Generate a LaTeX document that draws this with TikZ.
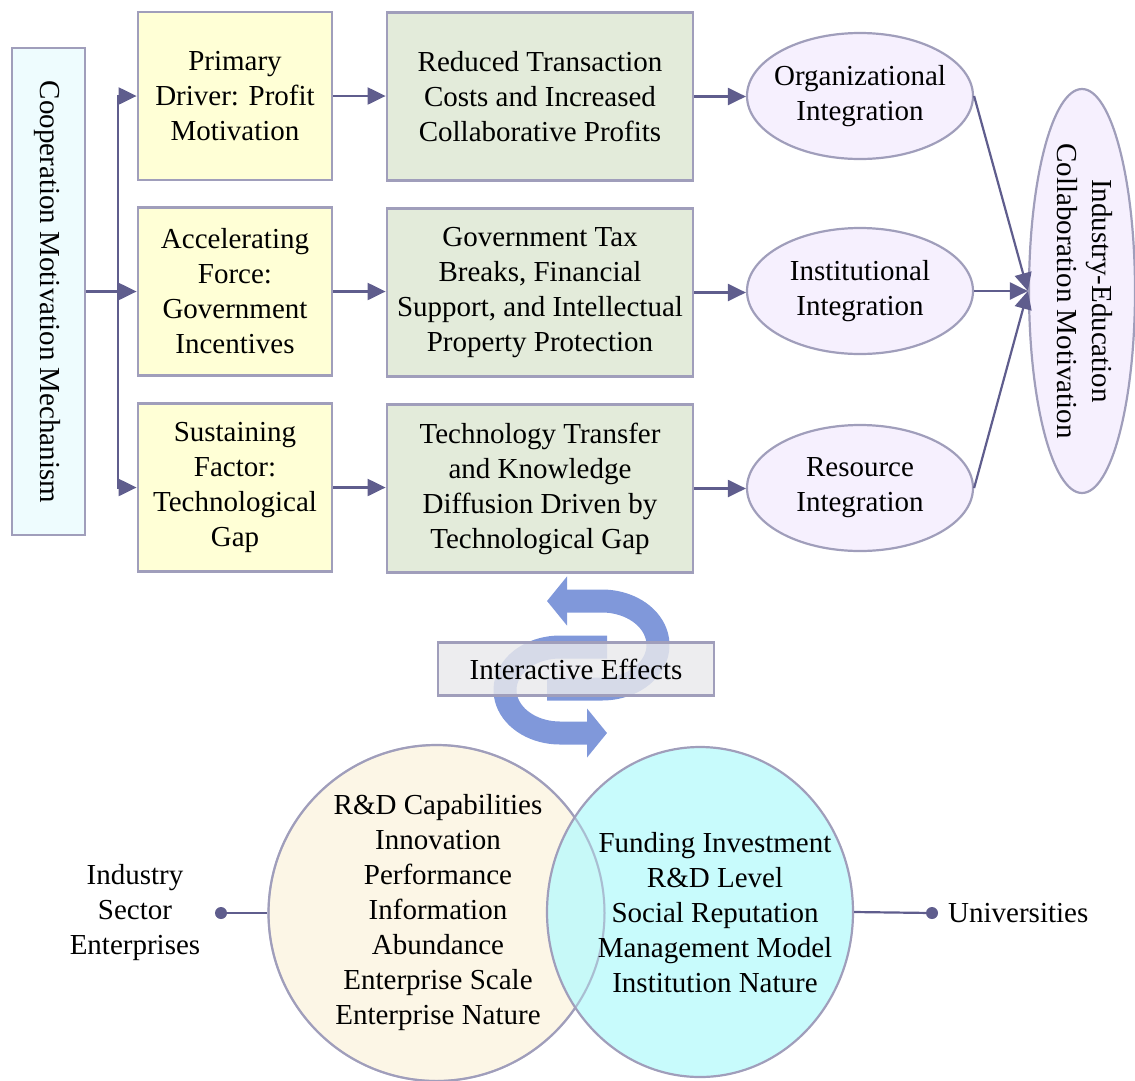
\documentclass[tikz,border=0pt]{standalone}
\usepackage{fontspec}
\setmainfont{Liberation Serif}
\usetikzlibrary{arrows.meta,shapes.geometric}
\definecolor{arr}{HTML}{5F5D8D}
\definecolor{bord}{HTML}{A09EBB}
\definecolor{leftfill}{HTML}{EEFCFE}
\definecolor{yel}{HTML}{FFFFD6}
\definecolor{grn}{HTML}{E3EBDA}
\definecolor{lav}{HTML}{F6F0FE}
\definecolor{cream}{HTML}{FCF6E6}
\definecolor{cyanc}{HTML}{BEFAFC}
\definecolor{ring}{HTML}{8098DA}
\definecolor{ieb}{HTML}{E9E9EC}
\begin{document}
\begin{tikzpicture}[x=1pt,y=-1pt,
  txt/.style={font=\fontsize{29}{35}\selectfont, align=center, inner sep=0pt},
  boxbase/.style={draw=bord, line width=2.8pt, inner sep=0pt},
  ybox/.style={boxbase, fill=yel, minimum width=194pt, minimum height=168pt},
  gbox/.style={boxbase, fill=grn, minimum width=306pt, minimum height=168pt},
  ell/.style={ellipse, draw=bord, line width=2.2pt, fill=lav, minimum width=226pt, minimum height=126pt, inner sep=0pt},
  conn/.style={draw=arr, line width=2.2pt, -{Triangle[length=18pt,width=17pt]}},
  ringarrow/.style={draw=ring, line width=23pt, -{Triangle[length=20pt,width=48pt]}},
  dot/.style={circle, fill=arr, inner sep=0pt, minimum size=12pt},
  plainline/.style={draw=arr, line width=2.2pt},
]
\useasboundingbox (0,0) rectangle (1135,1080);

% left box
\node[boxbase, fill=leftfill, minimum width=73pt, minimum height=487pt] (lb) at (48.5,291.5) {};
\node[txt, rotate=-90] (lbt) at (47,292) {Cooperation Motivation Mechanism};

% yellow boxes
\node[ybox] (y1) at (235,96) {};
\node[ybox] (y2) at (235,291.5) {};
\node[ybox] (y3) at (235,487.5) {};
\node[txt] (y1t) at (y1) {Primary\\Driver: Profit\\Motivation};
\node[txt] (y2t) at (y2) {Accelerating\\Force:\\Government\\Incentives};
\node[txt] (y3t) at (y3) {Sustaining\\Factor:\\Technological\\Gap};

% green boxes
\node[gbox] (g1) at (540,96.5) {};
\node[gbox] (g2) at (540,292.5) {};
\node[gbox] (g3) at (540,488.5) {};
\node[txt] (g1t) at (g1) {Reduced Transaction\\Costs and Increased\\Collaborative Profits};
\node[txt] (g2t) at (g2) {Government Tax\\Breaks, Financial\\Support, and Intellectual\\Property Protection};
\node[txt] (g3t) at (g3) {Technology Transfer\\and Knowledge\\Diffusion Driven by\\Technological Gap};

% ellipses
\node[ell] (e1) at (860,96) {};
\node[ell] (e2) at (860,291) {};
\node[ell] (e3) at (860,488) {};
\node[txt] (e1t) at (e1) {Organizational\\Integration};
\node[txt] (e2t) at (e2) {Institutional\\Integration};
\node[txt] (e3t) at (e3) {Resource\\Integration};

% big ellipse
\node[ellipse, draw=bord, line width=2.2pt, fill=lav, minimum width=106pt, minimum height=404pt, inner sep=0pt] (iec) at (1082,291) {};
\node[txt, rotate=-90] (iect) at (1085,291) {Industry-Education\\Collaboration Motivation};

% connectors
\coordinate (sp) at (118,291.5);
\draw[conn] (lb.east) -- (y2.west);
\draw[conn] (sp) |- (y1.west);
\draw[conn] (sp) |- (y3.west);
\draw[conn] (y1.east) -- (y1.east -| g1.west);
\draw[conn] (y2.east) -- (y2.east -| g2.west);
\draw[conn] (y3.east) -- (y3.east -| g3.west);
\draw[conn] (g1.east) -- (g1.east -| e1.west);
\draw[conn] (g2.east) -- (g2.east -| e2.west);
\draw[conn] (g3.east) -- (g3.east -| e3.west);
\draw[conn] (e1.east) -- (iec.west);
\draw[conn] (e2.east) -- (iec.west);
\draw[conn] (e3.east) -- (iec.west);

% ring arrows
\draw[ringarrow] (547,689) -- (602,689)
  -- plot[domain=90:-90, samples=40, smooth] ({602+56*cos(\x)},{645+44*sin(\x)})
  -- (547,601);
\draw[ringarrow] (607,647) -- (560,647)
  -- plot[domain=270:90, samples=40, smooth] ({560+55*cos(\x)},{690+43*sin(\x)})
  -- (607,733);

% interactive effects box
\node[draw=bord, line width=2.2pt, fill=ieb, fill opacity=0.82, text opacity=1, minimum width=276pt, minimum height=53pt, inner sep=0pt] (ie) at (576,669) {};
\node[txt] (iet) at (576,669) {Interactive Effects};

% Venn
\node[circle, draw=bord, line width=2.2pt, fill=cream, minimum size=336pt, inner sep=0pt] (ind) at (436.5,913) {};
\node[ellipse, draw=bord, line width=2.2pt, fill=cyanc, fill opacity=0.85, minimum width=306pt, minimum height=330pt, inner sep=0pt] (uni) at (700,912) {};
\draw[bord, line width=2pt, opacity=0.6] (ind) circle[radius=168];
\node[txt] (indt) at (438,913) {R\&D Capabilities\\Innovation\\Performance\\Information\\Abundance\\Enterprise Scale\\Enterprise Nature};
\node[txt] (unit) at (715,913) {Funding Investment\\R\&D Level\\Social Reputation\\Management Model\\Institution Nature};

\node[dot] (dl) at (221,913) {};
\node[dot] (dr) at (932,913) {};
\draw[plainline] (dl) -- (ind.west);
\draw[plainline] (uni.east) -- (dr);
\node[txt] (indlab) at (135,913) {Industry\\Sector\\Enterprises};
\node[txt, anchor=west] (unilab) at (948,913) {Universities};
\end{tikzpicture}
\end{document}
